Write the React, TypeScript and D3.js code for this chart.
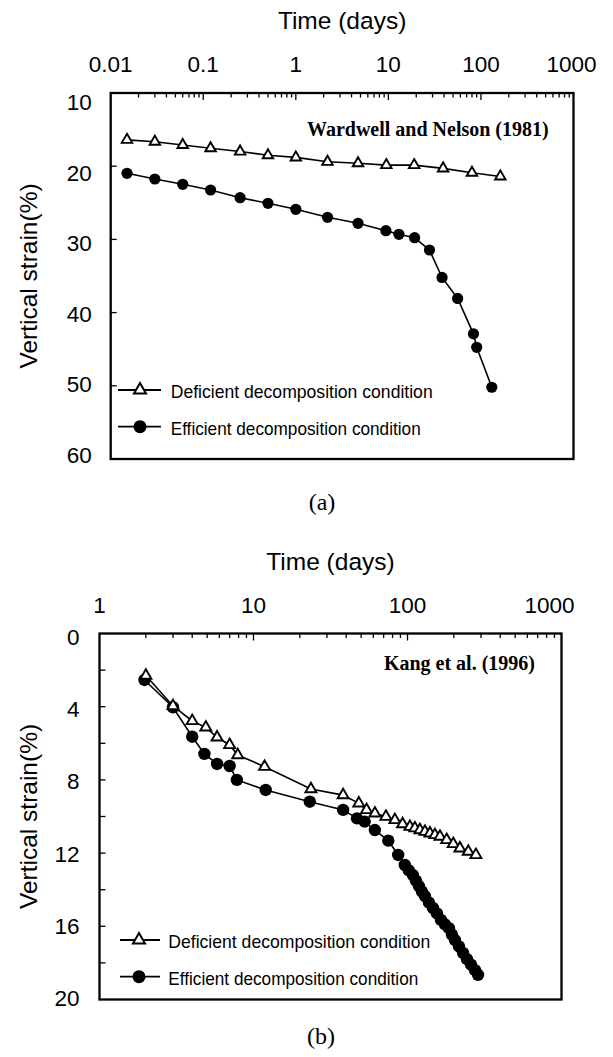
import React from "react";
import * as d3 from "d3";

// ---------- data ----------
const seriesNames = ["Deficient decomposition condition", "Efficient decomposition condition"];

// Panel (a): Wardwell and Nelson (1981)
const aDeficientTime = [0.015, 0.03, 0.06, 0.12, 0.25, 0.5, 1, 2.2, 4.7, 9.5, 19, 39, 80, 162];
const aDeficientStrain = [16.4, 16.65, 17.1, 17.55, 18.0, 18.5, 18.8, 19.4, 19.6, 19.85, 19.85, 20.3, 20.9, 21.4];
const aEfficientTime = [0.015, 0.03, 0.06, 0.12, 0.25, 0.5, 1, 2.2, 4.7, 9.4, 13, 19.2, 27.8, 38, 56, 83, 90, 131];
const aEfficientStrain = [20.97, 21.75, 22.47, 23.25, 24.3, 25.07, 25.89, 26.98, 27.8, 28.81, 29.3, 29.77, 31.45, 35.2, 38.07, 42.9, 44.74, 50.2];

// Panel (b): Kang et al. (1996)
const bDeficientTime = [2, 3, 4, 4.9, 5.8, 7, 7.9, 11.8, 23.6, 38.2, 48.3, 54.2, 61.4, 72.4, 82.8, 92.9, 103.7, 111.7, 120.5, 129.8, 139.9, 150.7, 162.5, 179.6, 198.2, 219, 248, 278];
const bDeficientStrain = [2.3, 3.96, 4.78, 5.13, 5.67, 6.09, 6.64, 7.28, 8.5, 8.83, 9.28, 9.64, 9.83, 10.01, 10.19, 10.41, 10.56, 10.64, 10.74, 10.83, 10.92, 11.01, 11.1, 11.28, 11.5, 11.74, 11.92, 12.1];
const bEfficientTime = [1.96, 3, 4, 4.8, 5.8, 7, 7.8, 12, 23.2, 38.2, 47, 52.7, 61.4, 75, 87, 96, 102, 108.4, 113.4, 118.6, 124.1, 129.8, 137.8, 146.3, 155.4, 164.9, 175.1, 185.9, 194.4, 203.3, 215.9, 229.3, 243.4, 258.5, 274.5, 287];
const bEfficientStrain = [2.54, 4.03, 5.64, 6.58, 7.13, 7.24, 8.0, 8.55, 9.19, 9.64, 10.1, 10.28, 10.74, 11.32, 12.1, 12.65, 12.95, 13.2, 13.5, 13.8, 14.1, 14.35, 14.7, 15.0, 15.3, 15.65, 15.9, 16.1, 16.45, 16.75, 17.1, 17.45, 17.8, 18.1, 18.4, 18.65];

// ticks
const aXTicks = [0.01, 0.1, 1, 10, 100, 1000];
const aYTicks = [10, 20, 30, 40, 50, 60];
const bXTicks = [1, 10, 100, 1000];
const bYTicks = [0, 4, 8, 12, 16, 20];

const xTitle = "Time (days)";
const yTitle = "Vertical strain(%)";

const SANS = "'Liberation Sans', Arial, Helvetica, sans-serif";
const SERIF = "'Liberation Serif', 'Times New Roman', serif";

type PanelProps = {
  xDomain: [number, number];
  yDomain: [number, number];
  frame: { l: number; r: number; t: number; b: number };
  xTicks: number[];
  yTicks: number[];
  yMinorStep: number;
  defT: number[]; defV: number[];
  effT: number[]; effV: number[];
  note: string;
  noteX: number; noteY: number; noteAnchor: "start" | "end";
  tickLabelBaseline: number;
  titleBaseline: number;
  yLabelRight: number;
  yLabelShift: (i: number) => number;
  lastXLabelDx: number;
  legend: { y1: number; y2: number; x0: number; x1: number; sym: number; textX: number };
  tri: number; rad: number;
  caption: string; captionY: number; captionX: number;
};

function triPath(cx: number, cy: number, s: number) {
  const h = (s * Math.sqrt(3)) / 2;
  return `M${cx},${cy - (2 * h) / 3}L${cx + s / 2},${cy + h / 3}L${cx - s / 2},${cy + h / 3}Z`;
}

function Panel(p: PanelProps) {
  const { l, r, t, b } = p.frame;
  const x = d3.scaleLog().domain(p.xDomain).range([l, r]);
  const y = d3.scaleLinear().domain(p.yDomain).range([t, b]);
  const line = d3.line<[number, number]>().x((d) => x(d[0])).y((d) => y(d[1]));
  const def: [number, number][] = p.defT.map((v, i) => [v, p.defV[i]]);
  const eff: [number, number][] = p.effT.map((v, i) => [v, p.effV[i]]);
  const minor = x.ticks().filter((v) => v > p.xDomain[0] && v < p.xDomain[1]);
  const major = new Set(p.xTicks.map((v) => Math.round(Math.log10(v))));
  const yMinor = d3.range(p.yDomain[0] + p.yMinorStep, p.yDomain[1] - 1e-9, p.yMinorStep);
  const cx = (l + r) / 2;
  const cy = (t + b) / 2;
  return (
    <g>
      {/* top axis ticks (inward) */}
      {minor.map((v, i) => {
        const isMajor = Math.abs(Math.log10(v) - Math.round(Math.log10(v))) < 1e-6 && major.has(Math.round(Math.log10(v)));
        return <line key={"xt" + i} x1={x(v)} x2={x(v)} y1={t} y2={t + (isMajor ? 7 : 4.5)} stroke="#000" strokeWidth={1.3} />;
      })}
      {/* left axis ticks */}
      {yMinor.map((v, i) => (
        <line key={"yt" + i} x1={l} x2={l + 6} y1={y(v)} y2={y(v)} stroke="#000" strokeWidth={1.3} />
      ))}
      {/* frame */}
      <rect x={l} y={t} width={r - l} height={b - t} fill="none" stroke="#000" strokeWidth={2.3} />
      {/* x tick labels */}
      {p.xTicks.map((v, i) => (
        <text key={"xl" + i} x={x(v) + (i === p.xTicks.length - 1 ? p.lastXLabelDx : 0)} y={p.tickLabelBaseline}
          textAnchor="middle" fontFamily={SANS} fontSize={22.5} fill="#000">{String(v)}</text>
      ))}
      {/* y tick labels */}
      {p.yTicks.map((v, i) => (
        <text key={"yl" + i} x={p.yLabelRight} y={y(v) + p.yLabelShift(i) + 8}
          textAnchor="end" fontFamily={SANS} fontSize={22.5} fill="#000">{String(v)}</text>
      ))}
      {/* axis titles */}
      <text x={cx} y={p.titleBaseline} textAnchor="middle" fontFamily={SANS} fontSize={24.5} fill="#000">{xTitle}</text>
      <text transform={`translate(36.5,${cy}) rotate(-90)`} textAnchor="middle" fontFamily={SANS} fontSize={24.5} fill="#000">{yTitle}</text>
      {/* series */}
      <path d={line(def) || ""} fill="none" stroke="#000" strokeWidth={1.6} />
      <path d={line(eff) || ""} fill="none" stroke="#000" strokeWidth={1.6} />
      {eff.map((d, i) => (
        <circle key={"e" + i} cx={x(d[0])} cy={y(d[1])} r={p.rad} fill="#000" />
      ))}
      {def.map((d, i) => (
        <path key={"d" + i} d={triPath(x(d[0]), y(d[1]), p.tri)} fill="#fff" stroke="#000" strokeWidth={1.9} strokeLinejoin="miter" />
      ))}
      {/* note */}
      <text x={p.noteX} y={p.noteY} textAnchor={p.noteAnchor} fontFamily={SERIF} fontWeight="bold" fontSize={20} fill="#000">{p.note}</text>
      {/* legend */}
      <line x1={p.legend.x0} x2={p.legend.x1} y1={p.legend.y1} y2={p.legend.y1} stroke="#000" strokeWidth={1.8} />
      <path d={triPath(p.legend.sym, p.legend.y1, 12)} fill="#fff" stroke="#000" strokeWidth={2} />
      <text x={p.legend.textX} y={p.legend.y1 + 8} fontFamily={SANS} fontSize={19} textLength={262} lengthAdjust="spacingAndGlyphs" fill="#000">{seriesNames[0]}</text>
      <line x1={p.legend.x0} x2={p.legend.x1} y1={p.legend.y2} y2={p.legend.y2} stroke="#000" strokeWidth={1.8} />
      <circle cx={p.legend.sym} cy={p.legend.y2} r={6.5} fill="#000" />
      <text x={p.legend.textX} y={p.legend.y2 + 8} fontFamily={SANS} fontSize={19} textLength={250} lengthAdjust="spacingAndGlyphs" fill="#000">{seriesNames[1]}</text>
      {/* caption */}
      <text x={p.captionX} y={p.captionY} textAnchor="middle" fontFamily={SERIF} fontSize={24} fill="#000">{p.caption}</text>
    </g>
  );
}

export default function App() {
  return (
    <svg width={613} height={1057} viewBox="0 0 613 1057" style={{ position: "absolute", left: 0, top: 0, background: "#fff" }}>
      <rect x={0} y={0} width={613} height={1057} fill="#fff" />
      <Panel
        xDomain={[0.01, 1000]} yDomain={[10, 60]}
        frame={{ l: 110.7, r: 573.5, t: 93, b: 459 }}
        xTicks={aXTicks} yTicks={aYTicks} yMinorStep={10}
        defT={aDeficientTime} defV={aDeficientStrain}
        effT={aEfficientTime} effV={aEfficientStrain}
        note="Wardwell and Nelson (1981)" noteX={307} noteY={136} noteAnchor="start"
        tickLabelBaseline={71.5} titleBaseline={29}
        yLabelRight={91.7} yLabelShift={(i) => 9 - 2.6 * i}
        lastXLabelDx={-2}
        legend={{ y1: 390, y2: 426.7, x0: 118, x1: 161, sym: 140, textX: 170.7 }}
        tri={10.5} rad={5.6}
        caption="(a)" captionX={322} captionY={510}
      />
      <Panel
        xDomain={[1, 1000]} yDomain={[0, 20]}
        frame={{ l: 99.5, r: 561.5, t: 633.5, b: 999.5 }}
        xTicks={bXTicks} yTicks={bYTicks} yMinorStep={2}
        defT={bDeficientTime} defV={bDeficientStrain}
        effT={bEfficientTime} effV={bEfficientStrain}
        note="Kang et al. (1996)" noteX={535} noteY={670} noteAnchor="end"
        tickLabelBaseline={612.7} titleBaseline={570}
        yLabelRight={79.5} yLabelShift={(i) => 3.5 - 1 * i}
        lastXLabelDx={-12}
        legend={{ y1: 940, y2: 976.7, x0: 120, x1: 160, sym: 139, textX: 168.3 }}
        tri={11} rad={6.2}
        caption="(b)" captionX={321} captionY={1044}
      />
    </svg>
  );
}
